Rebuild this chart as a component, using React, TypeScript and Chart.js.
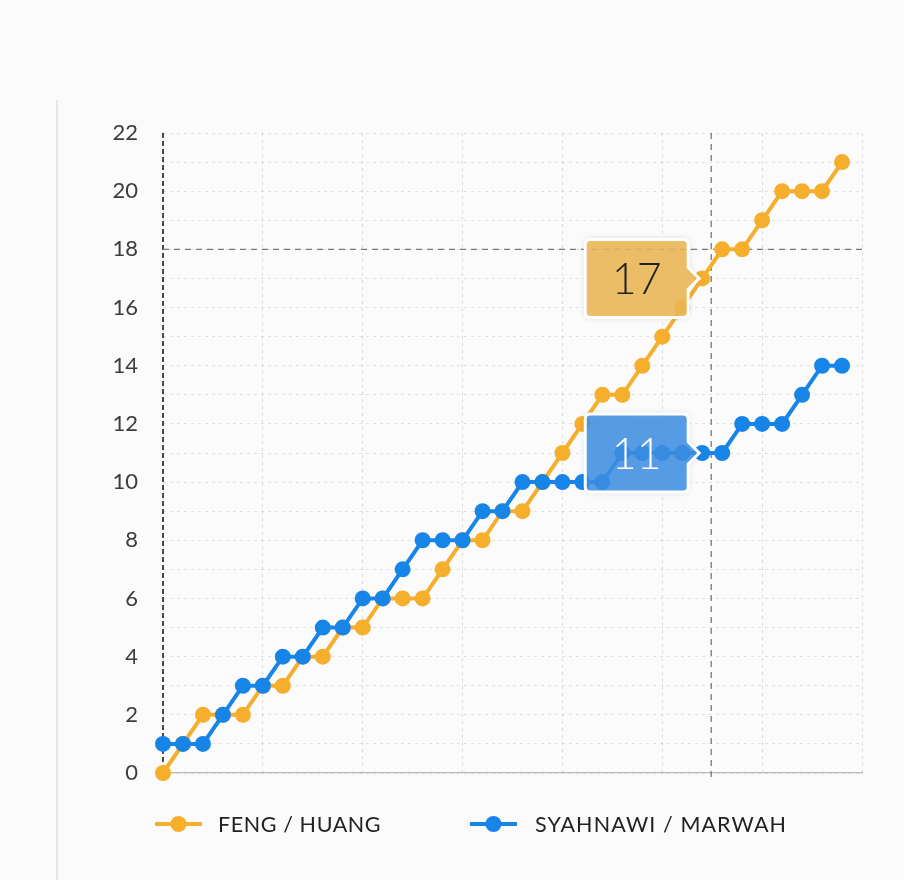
import React, { useEffect, useRef } from "react";
import { Chart, registerables } from "chart.js";

Chart.register(...registerables);

// rally number (x), running score of each pair (y)
const rallies = [
  0, 1, 2, 3, 4, 5, 6, 7, 8, 9, 10, 11, 12, 13, 14, 15, 16, 17, 18, 19, 20, 21, 22, 23, 24, 25, 26, 27, 28, 29, 30, 31,
  32, 33, 34,
];
const fengHuang = [
  0, 1, 2, 2, 2, 3, 3, 4, 4, 5, 5, 6, 6, 6, 7, 8, 8, 9, 9, 10, 11, 12, 13, 13, 14, 15, 16, 17, 18, 18, 19, 20, 20, 20,
  21,
];
const syahnawiMarwah = [
  1, 1, 1, 2, 3, 3, 4, 4, 5, 5, 6, 6, 7, 8, 8, 8, 9, 9, 10, 10, 10, 10, 10, 11, 11, 11, 11, 11, 11, 12, 12, 12, 13, 14,
  14,
];
const seriesNames = ["FENG / HUANG", "SYAHNAWI / MARWAH"];
const seriesColors = ["#f6ae2d", "#1785e8"];
const tipFills = ["rgba(238, 186, 88, 0.88)", "rgba(62, 146, 232, 0.85)"];
const tipText = ["#222222", "#ffffff"];
const hoverIndex = 27;
const crosshair = { x: 27.45, y: 18 };
const xMax = 35;
const yMax = 22;

const crosshairPlugin = {
  id: "crosshair",
  beforeDatasetsDraw(chart: any) {
    const { ctx, chartArea, scales } = chart;
    const cx = scales.x.getPixelForValue(crosshair.x);
    const cy = scales.y.getPixelForValue(crosshair.y);
    ctx.save();
    // dashed y axis line
    ctx.strokeStyle = "#111";
    ctx.lineWidth = 1.5;
    ctx.setLineDash([5, 3]);
    ctx.beginPath();
    ctx.moveTo(chartArea.left, chartArea.top);
    ctx.lineTo(chartArea.left, chartArea.bottom);
    ctx.stroke();
    // crosshair
    ctx.strokeStyle = "#777";
    ctx.lineWidth = 1.3;
    ctx.setLineDash([6, 5]);
    ctx.beginPath();
    ctx.moveTo(chartArea.left, cy);
    ctx.lineTo(chartArea.right, cy);
    ctx.moveTo(cx, chartArea.top);
    ctx.lineTo(cx, chartArea.bottom + 4);
    ctx.stroke();
    ctx.restore();
  },
};

const tipPlugin = {
  id: "fixedTips",
  afterDatasetsDraw(chart: any) {
    const ctx = chart.ctx;
    chart.data.datasets.forEach((ds: any, di: number) => {
      const pt = chart.getDatasetMeta(di).data[hoverIndex];
      const value = ds.data[hoverIndex].y;
      const w = 103;
      const h = 78;
      const r = 5;
      const caret = 11;
      const right = pt.x - 14;
      const left = right - w;
      const top = pt.y - h / 2;
      const bottom = top + h;
      ctx.save();
      ctx.beginPath();
      ctx.moveTo(left + r, top);
      ctx.lineTo(right - r, top);
      ctx.quadraticCurveTo(right, top, right, top + r);
      ctx.lineTo(right, pt.y - caret);
      ctx.lineTo(right + caret, pt.y);
      ctx.lineTo(right, pt.y + caret);
      ctx.lineTo(right, bottom - r);
      ctx.quadraticCurveTo(right, bottom, right - r, bottom);
      ctx.lineTo(left + r, bottom);
      ctx.quadraticCurveTo(left, bottom, left, bottom - r);
      ctx.lineTo(left, top + r);
      ctx.quadraticCurveTo(left, top, left + r, top);
      ctx.closePath();
      ctx.shadowColor = "rgba(0,0,0,0.2)";
      ctx.shadowBlur = 6;
      ctx.fillStyle = tipFills[di];
      ctx.fill();
      ctx.shadowColor = "transparent";
      ctx.lineWidth = 3;
      ctx.strokeStyle = "#ffffff";
      ctx.stroke();
      ctx.fillStyle = tipText[di];
      ctx.font = "300 43px Lato";
      ctx.textAlign = "center";
      ctx.textBaseline = "middle";
      ctx.fillText(String(value), left + w / 2, pt.y + 2);
      ctx.restore();
    });
  },
};

const legendPlugin = {
  id: "lineLegend",
  afterDraw(chart: any) {
    const { ctx, chartArea } = chart;
    const y = chartArea.bottom + 51;
    const starts = [chartArea.left - 8, chartArea.left + 307];
    ctx.save();
    chart.data.datasets.forEach((ds: any, i: number) => {
      const x = starts[i];
      ctx.strokeStyle = ds.borderColor;
      ctx.lineWidth = 4;
      ctx.beginPath();
      ctx.moveTo(x, y);
      ctx.lineTo(x + 47, y);
      ctx.stroke();
      ctx.fillStyle = ds.borderColor;
      ctx.beginPath();
      ctx.arc(x + 23.5, y, 8, 0, Math.PI * 2);
      ctx.fill();
      ctx.fillStyle = "#222";
      ctx.font = "21.5px Lato";
      ctx.letterSpacing = i === 0 ? "0.6px" : "1.1px";
      ctx.textAlign = "left";
      ctx.textBaseline = "middle";
      ctx.fillText(ds.label, x + 63 + i * 2, y + 1);
    });
    ctx.restore();
  },
};

const App = () => {
  const chartRef = useRef<HTMLCanvasElement>(null);

  useEffect(() => {
    const chart = new Chart(chartRef.current as HTMLCanvasElement, {
      type: "line",
      data: {
        datasets: [
          {
            label: seriesNames[0],
            data: rallies.map((r, i) => ({ x: r, y: fengHuang[i] })),
            borderColor: seriesColors[0],
            backgroundColor: seriesColors[0],
            order: 2,
          },
          {
            label: seriesNames[1],
            data: rallies.map((r, i) => ({ x: r, y: syahnawiMarwah[i] })),
            borderColor: seriesColors[1],
            backgroundColor: seriesColors[1],
            order: 1,
          },
        ] as any,
      },
      options: {
        animation: false,
        responsive: false,
        events: [],
        layout: { padding: { left: 0, right: 42, top: 133, bottom: 107 } },
        elements: {
          line: { borderWidth: 4, tension: 0 },
          point: { radius: 8, borderWidth: 0 },
        },
        datasets: { line: { clip: false } as any },
        scales: {
          x: {
            type: "linear",
            min: 0,
            max: xMax,
            ticks: { display: false, stepSize: 5 },
            grid: { color: "rgba(0,0,0,0.12)", drawTicks: false },
            border: { display: true, color: "#b8b8b8", width: 1.2, dash: [3, 4] },
          },
          y: {
            min: 0,
            max: yMax,
            afterFit: (scale: any) => {
              scale.width = 163;
            },
            ticks: {
              stepSize: 1,
              autoSkip: false,
              padding: 25,
              color: "#3c3c3c",
              font: { family: "Lato", size: 22, weight: 400 as any },
              callback: (v: any) => (v % 2 === 0 ? String(v) : ""),
            },
            grid: { color: "rgba(0,0,0,0.1)", drawTicks: false },
            border: { display: false, dash: [3, 4] },
          },
        },
        plugins: {
          legend: { display: false },
          tooltip: { enabled: false },
        },
      },
      plugins: [crosshairPlugin, tipPlugin, legendPlugin],
    });

    return () => {
      chart.destroy();
    };
  }, []);

  return (
    <div
      style={{
        position: "absolute",
        left: 0,
        top: 0,
        width: 904,
        height: 880,
        background: "#fbfbfc",
        overflow: "hidden",
      }}
    >
      <div
        style={{
          position: "absolute",
          left: 56,
          top: 100,
          width: 2,
          height: 780,
          background: "#e6e6e8",
        }}
      />
      <canvas ref={chartRef} width={904} height={880} style={{ position: "absolute", left: 0, top: 0 }} />
    </div>
  );
};

export default App;
